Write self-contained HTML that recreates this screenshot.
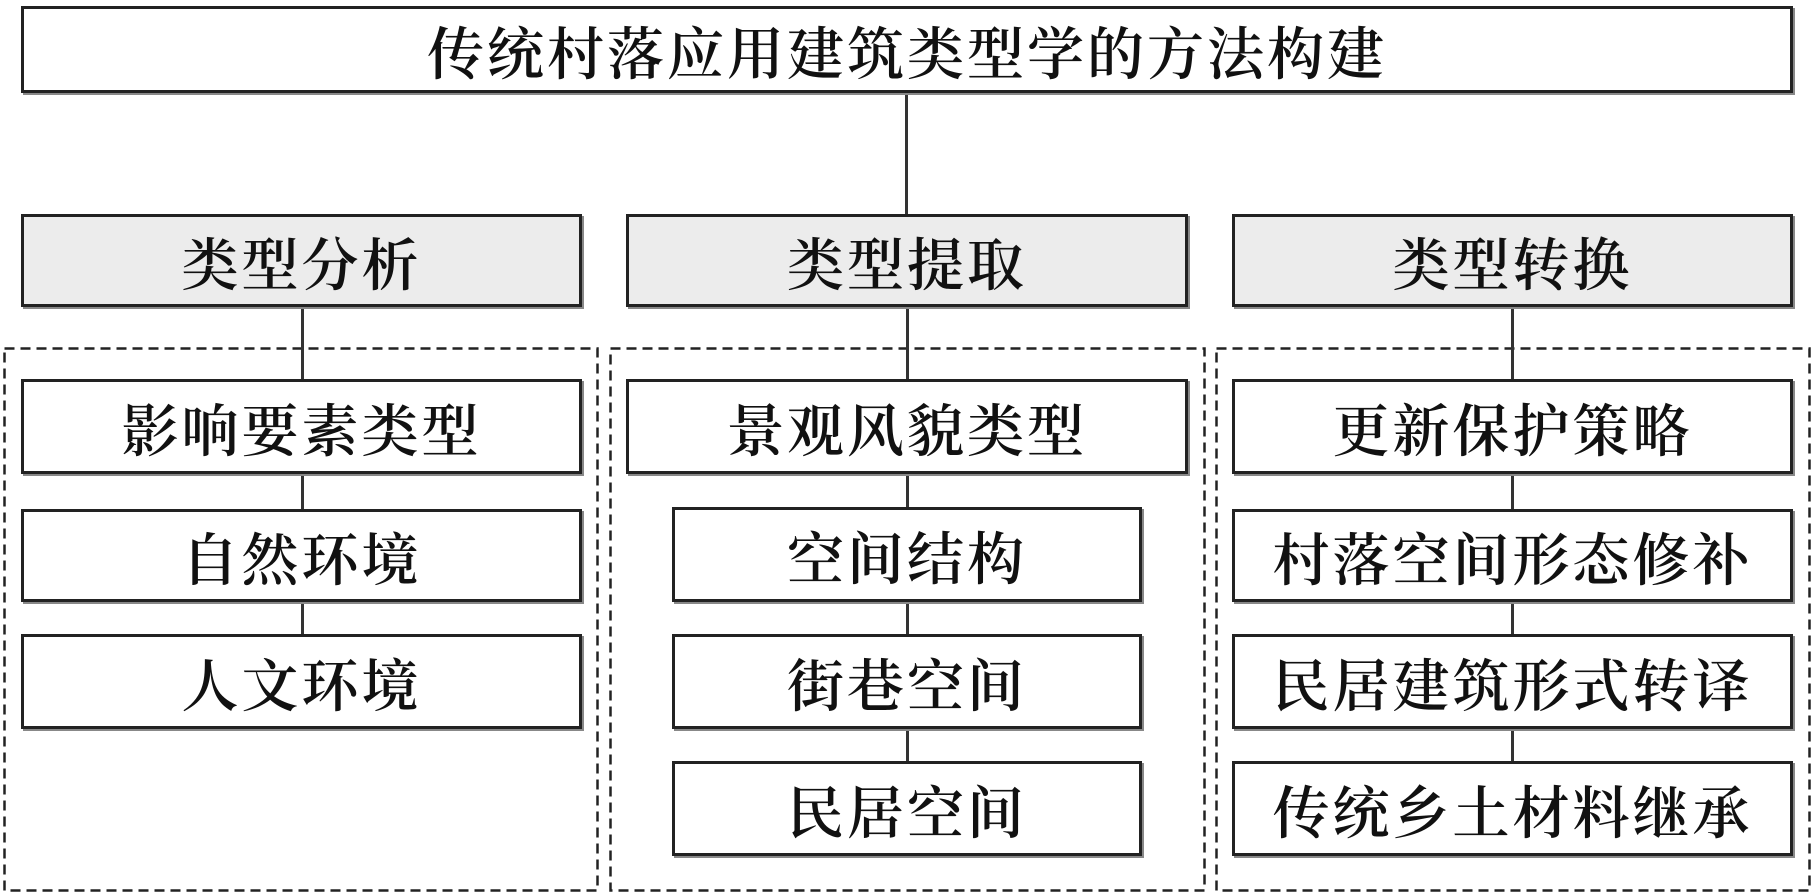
<!DOCTYPE html>
<html><head><meta charset="utf-8"><style>
body{margin:0;width:1814px;height:894px;background:#fff;position:relative;overflow:hidden;font-family:"Liberation Serif","Noto Serif CJK SC",serif;}
.b{position:absolute;box-sizing:border-box;border:3px solid #222;background:#fff;display:flex;align-items:center;justify-content:center;font-size:57px;letter-spacing:3px;font-weight:600;color:#111;box-shadow:2px 2px 0 #888;}
.g{background:#ececec;border-width:3.5px;}
.v{position:absolute;width:2.5px;background:#333;}
svg{position:absolute;left:0;top:0;}
</style></head><body>
<svg width="1814" height="894"><g fill="none" stroke="#222" stroke-width="2.5" stroke-dasharray="10 6">
<rect x="4.5" y="348.5" width="593" height="542"/>
<rect x="610.5" y="348.5" width="594" height="542"/>
<rect x="1216.5" y="348.5" width="593" height="542"/>
</g></svg>
<div class="v" style="left:905px;top:93px;height:122px"></div>
<div class="v" style="left:301px;top:307px;height:330px"></div>
<div class="v" style="left:906px;top:307px;height:456px"></div>
<div class="v" style="left:1511px;top:307px;height:456px"></div>
<div class="b" style="left:21px;top:6px;width:1772px;height:87px">传统村落应用建筑类型学的方法构建</div>
<div class="b g" style="left:21px;top:214px;width:561px;height:93px">类型分析</div>
<div class="b g" style="left:626px;top:214px;width:562px;height:93px">类型提取</div>
<div class="b g" style="left:1232px;top:214px;width:561px;height:93px">类型转换</div>
<div class="b" style="left:21px;top:379px;width:561px;height:95px">影响要素类型</div>
<div class="b" style="left:21px;top:509px;width:561px;height:93px">自然环境</div>
<div class="b" style="left:21px;top:634px;width:561px;height:95px">人文环境</div>
<div class="b" style="left:626px;top:379px;width:562px;height:95px">景观风貌类型</div>
<div class="b" style="left:672px;top:507px;width:470px;height:95px">空间结构</div>
<div class="b" style="left:672px;top:634px;width:470px;height:95px">街巷空间</div>
<div class="b" style="left:672px;top:761px;width:470px;height:95px">民居空间</div>
<div class="b" style="left:1232px;top:379px;width:561px;height:95px">更新保护策略</div>
<div class="b" style="left:1232px;top:509px;width:561px;height:93px">村落空间形态修补</div>
<div class="b" style="left:1232px;top:634px;width:561px;height:95px">民居建筑形式转译</div>
<div class="b" style="left:1232px;top:761px;width:561px;height:95px">传统乡土材料继承</div>
</body></html>
